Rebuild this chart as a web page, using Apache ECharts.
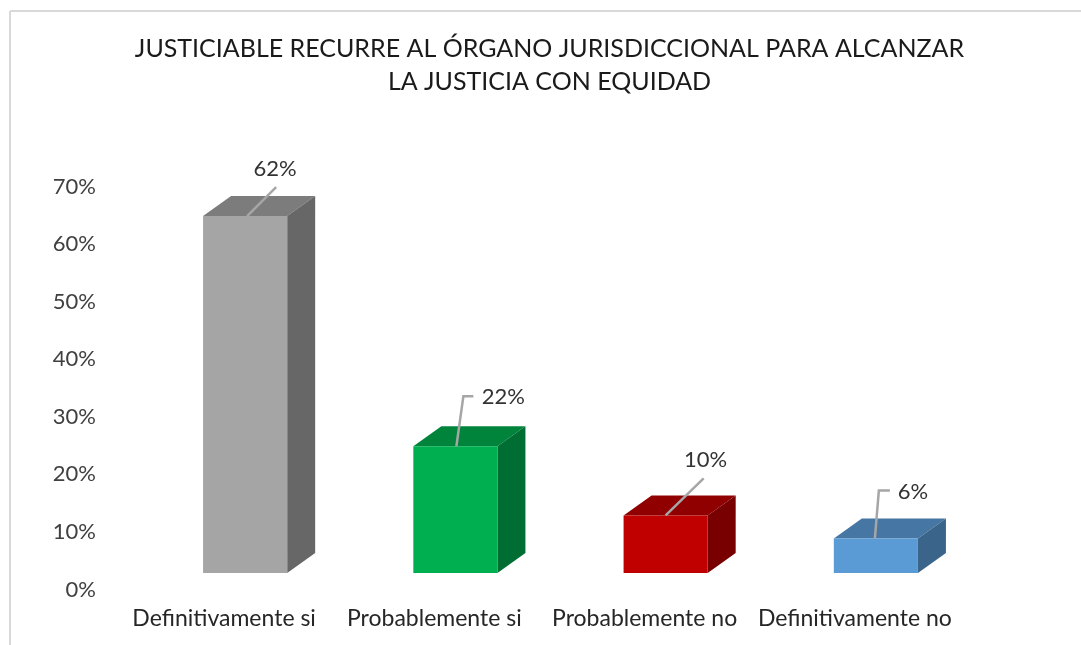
<!DOCTYPE html>
<html>
<head>
<meta charset="utf-8">
<title>Justiciable</title>
<script src="https://cdn.jsdelivr.net/npm/echarts@6/dist/echarts.min.js"></script>
<style>
  html, body { margin: 0; padding: 0; background: #fff; }
  #chart { width: 1081px; height: 645px; }
</style>
</head>
<body>
<div id="chart"></div>
<script>
const titleLines = [
  "JUSTICIABLE RECURRE AL ÓRGANO JURISDICCIONAL PARA ALCANZAR",
  "LA JUSTICIA CON EQUIDAD",
];
const categories = ["Definitivamente si", "Probablemente si", "Probablemente no", "Definitivamente no"];
const values = [62, 22, 10, 6];
const axisMax = 70;
const axisStep = 10;

// front, top, side of each box
const shades = [
  ["#a5a5a5", "#7c7c7c", "#676767"],
  ["#00b050", "#00843c", "#006e32"],
  ["#c00000", "#900000", "#780000"],
  ["#5b9bd5", "#4676a3", "#3a6489"],
];
// leader line points and label spot, relative to the middle of the box's front top edge
const leaders = [
  { line: [[2, 0], [31, -29]], text: [30, -47] },
  { line: [[1, 0], [8, -50], [18, -50]], text: [48, -49] },
  { line: [[0, 0], [38, -37]], text: [40, -56] },
  { line: [[-1, 0], [3, -48], [14, -48]], text: [37, -47] },
];
// the 3d floor pushes the boxes away from the axis labels
const floorX = 21, floorY = -16.5, depthX = 28, depthY = -20;

function renderBox(params, api) {
  const i = api.value(0);
  const v = api.value(1);
  const top = api.coord([i, v]);
  const base = api.coord([i, 0]);
  const w = api.size([1, 0])[0] * 0.4;
  const l = top[0] + floorX - w / 2, r = l + w;
  const t = top[1] + floorY, b = base[1] + floorY;
  const mid = (l + r) / 2;
  const c = shades[i];
  const poly = (points, fill) => ({ type: "polygon", shape: { points }, style: { fill } });
  return {
    type: "group",
    children: [
      poly([[l, t], [r, t], [r + depthX, t + depthY], [l + depthX, t + depthY]], c[1]),
      poly([[r, t], [r + depthX, t + depthY], [r + depthX, b + depthY], [r, b]], c[2]),
      poly([[l, t], [r, t], [r, b], [l, b]], c[0]),
      {
        type: "polyline",
        shape: { points: leaders[i].line.map((p) => [mid + p[0], t + p[1]]) },
        style: { fill: null, stroke: "#a6a6a6", lineWidth: 2.5 },
      },
      {
        type: "text",
        x: mid + leaders[i].text[0],
        y: t + leaders[i].text[1],
        style: {
          text: v + "%",
          fill: "#333333",
          font: '22px Lato',
          align: "center",
          verticalAlign: "middle",
        },
      },
    ],
  };
}

const chart = echarts.init(document.getElementById("chart"));
chart.setOption({
  backgroundColor: "#fff",
  animation: false,
  title: {
    text: titleLines.join("\n"),
    left: 544.5,
    top: 27,
    textAlign: "center",
    textStyle: { fontFamily: "Lato", fontSize: 25, fontWeight: "normal", color: "#1a1a1a", lineHeight: 33 },
  },
  grid: { left: 119, right: 121, top: 186.5, bottom: 55.5 },
  xAxis: {
    type: "category",
    data: categories,
    axisLine: { show: false },
    axisTick: { show: false },
    axisLabel: { fontFamily: "Lato", fontSize: 23, color: "#262626", margin: 18, interval: 0 },
  },
  yAxis: {
    type: "value",
    min: 0,
    max: axisMax,
    interval: axisStep,
    splitLine: { show: false },
    axisLine: { show: false },
    axisTick: { show: false },
    axisLabel: { formatter: "{value}%", fontFamily: "Lato", fontSize: 22, color: "#404040", margin: 23 },
  },
  series: [
    {
      type: "custom",
      renderItem: renderBox,
      clip: false,
      encode: { x: 0, y: 1 },
      data: values.map((v, i) => [i, v]),
    },
  ],
  graphic: [
    { type: "line", shape: { x1: 10, y1: 11, x2: 1081, y2: 11 }, style: { stroke: "#d9d9d9", lineWidth: 2 } },
    { type: "line", shape: { x1: 10, y1: 11, x2: 10, y2: 645 }, style: { stroke: "#d9d9d9", lineWidth: 2 } },
  ],
});
</script>
</body>
</html>
